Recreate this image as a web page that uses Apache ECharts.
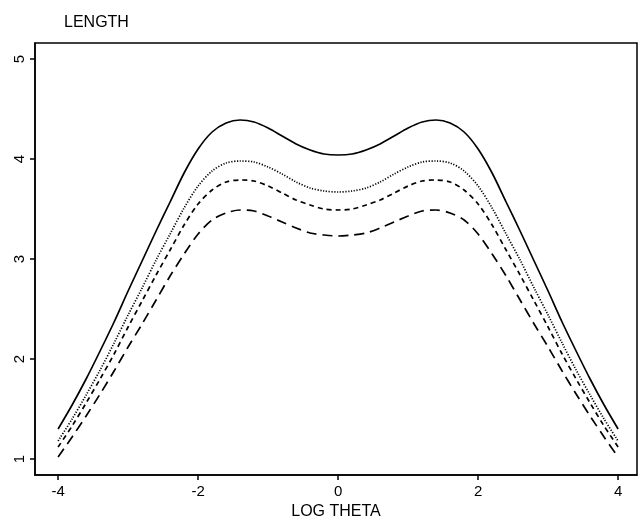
<!DOCTYPE html>
<html>
<head>
<meta charset="utf-8">
<script src="https://cdn.jsdelivr.net/npm/echarts@6/dist/echarts.min.js"></script>
<style>html,body{margin:0;padding:0;background:#fff}#c{width:642px;height:521px}</style>
</head>
<body>
<div id="c"></div>
<script>
var xs = [-4,-3.8,-3.6,-3.4,-3.2,-3,-2.8,-2.6,-2.4,-2.2,-2,-1.8,-1.6,-1.4,-1.2,-1,-0.8,-0.6,-0.4,-0.2,0,
          0.2,0.4,0.6,0.8,1,1.2,1.4,1.6,1.8,2,2.2,2.4,2.6,2.8,3,3.2,3.4,3.6,3.8,4];
var solid = [1.30,1.54,1.80,2.08,2.37,2.68,2.98,3.28,3.57,3.86,4.10,4.27,4.36,4.39,4.37,4.31,4.23,4.15,4.09,4.05,4.04,
             4.05,4.09,4.15,4.23,4.31,4.37,4.39,4.36,4.27,4.10,3.86,3.57,3.28,2.98,2.68,2.37,2.08,1.80,1.54,1.30];
var dotted = [1.18,1.40,1.64,1.89,2.16,2.44,2.71,2.99,3.25,3.51,3.73,3.88,3.96,3.98,3.97,3.92,3.85,3.77,3.71,3.68,3.67,
              3.68,3.71,3.77,3.85,3.92,3.97,3.98,3.96,3.88,3.73,3.51,3.25,2.99,2.71,2.44,2.16,1.89,1.64,1.40,1.18];
var shortDash = [1.12,1.33,1.56,1.80,2.05,2.32,2.58,2.84,3.09,3.34,3.55,3.69,3.77,3.79,3.78,3.73,3.66,3.59,3.54,3.50,3.49,
                 3.50,3.54,3.59,3.66,3.73,3.78,3.79,3.77,3.69,3.55,3.34,3.09,2.84,2.58,2.32,2.05,1.80,1.56,1.33,1.12];
var longDash = [1.02,1.22,1.43,1.65,1.88,2.12,2.35,2.59,2.83,3.05,3.25,3.39,3.46,3.49,3.48,3.43,3.37,3.31,3.26,3.24,3.23,
                3.24,3.26,3.31,3.37,3.43,3.48,3.49,3.46,3.39,3.25,3.05,2.83,2.59,2.35,2.12,1.88,1.65,1.43,1.22,1.02];
var xTicks = [-4,-2,0,2,4];
var yTicks = [1,2,3,4,5];

function pairs(ys){ return xs.map(function(x,i){ return [x, ys[i]]; }); }
var font = 'Liberation Sans, Arial, Helvetica, sans-serif';
function mk(name, ys, type, w){
  return {name:name, type:'line', data:pairs(ys), smooth:0.3, symbol:'none',
    lineStyle:{color:'#000', width:w, type:type}, z:3};
}
var chart = echarts.init(document.getElementById('c'), null, {renderer:'canvas'});
chart.setOption({
  animation:false,
  backgroundColor:'#fff',
  title:{text:'LENGTH', left:59, top:10, textStyle:{fontFamily:font, fontSize:16, fontWeight:'normal', color:'#000'}},
  grid:{left:35, right:5, top:43, bottom:46, outerBoundsMode:'none', containLabel:false,
    show:true, borderColor:'#000', borderWidth:1.5, backgroundColor:'transparent'},
  xAxis:{type:'value', min:-4.33, max:4.27,
    name:'LOG THETA', nameLocation:'middle', nameGap:28,
    nameTextStyle:{fontFamily:font, fontSize:16, color:'#000'},
    axisLine:{show:true, onZero:false, lineStyle:{color:'#000', width:1.5}},
    axisTick:{show:true, length:5, lineStyle:{color:'#000', width:1.5}, customValues:xTicks},
    axisLabel:{fontFamily:font, fontSize:15, color:'#000', margin:9, customValues:xTicks,
      formatter:function(v){return String(v);}},
    splitLine:{show:false}},
  yAxis:{type:'value', min:0.84, max:5.16,
    axisLine:{show:true, onZero:false, lineStyle:{color:'#000', width:1.5}},
    axisTick:{show:true, length:5, lineStyle:{color:'#000', width:1.5}, customValues:yTicks},
    axisLabel:{fontFamily:font, fontSize:15, color:'#000', rotate:90, margin:8, customValues:yTicks,
      formatter:function(v){return String(v);}},
    splitLine:{show:false}},
  series:[
    mk('solid', solid, 'solid', 1.7),
    mk('dotted', dotted, [1.2,1.6], 1.7),
    mk('shortDash', shortDash, [5,4], 1.7),
    mk('longDash', longDash, [10,6], 1.7)
  ]
});
</script>
</body>
</html>
